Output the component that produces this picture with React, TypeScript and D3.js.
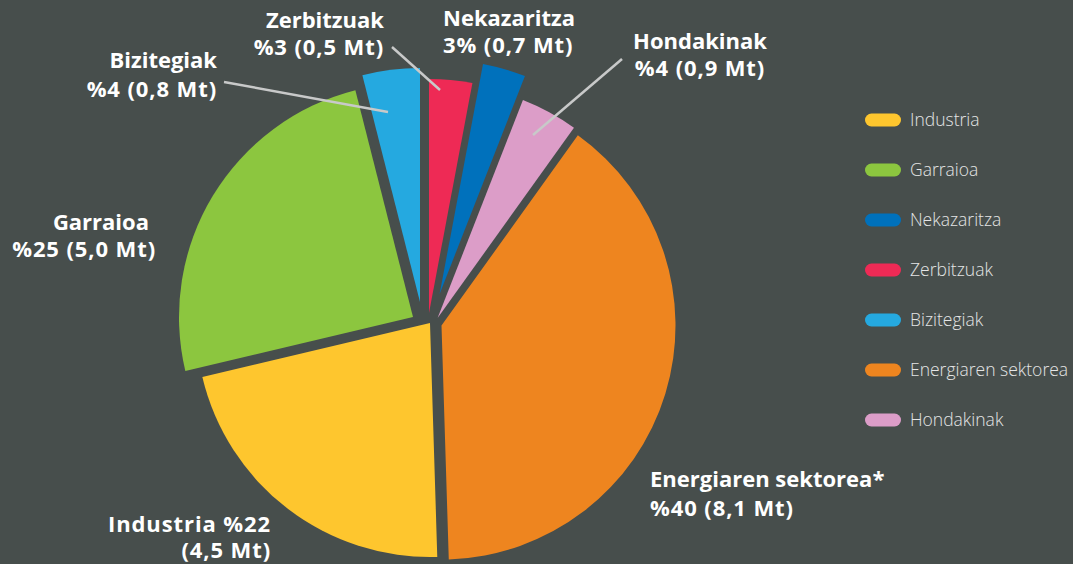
import React, { useEffect, useRef } from 'react';
import { select, pie, arc } from 'd3';

// slices in drawing order, clockwise from 12 o'clock
const sectors = ['Zerbitzuak', 'Nekazaritza', 'Hondakinak', 'Energiaren sektorea', 'Industria', 'Garraioa', 'Bizitegiak'];
const shares = [3, 3, 4, 40, 22, 25, 4];
const emissionsMt = ['0,5', '0,7', '0,9', '8,1', '4,5', '5,0', '0,8'];
const legendOrder = ['Industria', 'Garraioa', 'Nekazaritza', 'Zerbitzuak', 'Bizitegiak', 'Energiaren sektorea', 'Hondakinak'];

const colors: Record<string, string> = {
  Industria: '#fec62e',
  Garraioa: '#8cc63f',
  Nekazaritza: '#0071bc',
  Zerbitzuak: '#ee2a55',
  Bizitegiak: '#25a9e0',
  'Energiaren sektorea': '#ee851f',
  Hondakinak: '#dc9dc8',
};

// how far each slice is pulled away from the centre (px)
const pull: Record<string, [number, number]> = {
  Zerbitzuak: [-1, -9],
  Nekazaritza: [9.6, -28],
  Hondakinak: [7.6, -4],
  'Energiaren sektorea': [11.5, 3.5],
  Industria: [0, 1],
  Garraioa: [-17, -5],
  Bizitegiak: [-10, -20],
};

// label placement
const labelLayout: Record<string, any> = {
  Zerbitzuak: { x: 384, ys: [28, 55], anchor: 'end', top: 'Zerbitzuak', fmt: (p: number, m: string) => `%${p} (${m} Mt)`, leader: [[392, 47], [440, 90]] },
  Nekazaritza: { x: 443, ys: [26, 53], anchor: 'start', top: 'Nekazaritza', fmt: (p: number, m: string) => `${p}% (${m} Mt)` },
  Hondakinak: { x: 700, ys: [49, 76], anchor: 'middle', top: 'Hondakinak', fmt: (p: number, m: string) => `%${p} (${m} Mt)`, leader: [[622, 59], [533, 135]] },
  'Energiaren sektorea': { x: 650, ys: [487, 516], anchor: 'start', top: 'Energiaren sektorea*', fmt: (p: number, m: string) => `%${p} (${m} Mt)` },
  Industria: { x: 271, ys: [532, 558], anchor: 'end', top: 'Industria %22', fmt: (_p: number, m: string) => `(${m} Mt)` },
  Garraioa: { x: 156, ys: [230, 257], anchor: 'end', dx: [-7, 0], top: 'Garraioa', fmt: (p: number, m: string) => `%${p} (${m} Mt)` },
  Bizitegiak: { x: 217, ys: [68, 97], anchor: 'end', top: 'Bizitegiak', fmt: (p: number, m: string) => `%${p} (${m} Mt)`, leader: [[224, 82], [388, 112]] },
};

const W = 1073;
const H = 564;
const BG = '#474e4c';

const App = () => {
  const svgRef = useRef(null);

  useEffect(() => {
    const svg = select(svgRef.current);
    svg.selectAll('*').remove();

    svg.append('rect').attr('width', W).attr('height', H).attr('fill', BG);

    const cx = 430;
    const cy = 322;
    const radius = 234;

    const rows = sectors.map((name, i) => ({ name, share: shares[i], mt: emissionsMt[i] }));
    const slices = pie<any>().sort(null).value((d) => d.share)(rows);
    const wedge = arc<any>().innerRadius(0).outerRadius(radius);

    const g = svg.append('g').attr('transform', `translate(${cx},${cy})`);
    slices.forEach((s) => {
      const [dx, dy] = pull[s.data.name];
      g.append('path')
        .attr('d', wedge(s))
        .attr('transform', `translate(${dx},${dy})`)
        .attr('fill', colors[s.data.name]);
    });

    // leader lines
    rows.forEach((r) => {
      const lay = labelLayout[r.name];
      if (!lay.leader) return;
      svg
        .append('line')
        .attr('x1', lay.leader[0][0])
        .attr('y1', lay.leader[0][1])
        .attr('x2', lay.leader[1][0])
        .attr('y2', lay.leader[1][1])
        .attr('stroke', '#c8c9c9')
        .attr('stroke-width', 2.5);
    });

    // slice labels
    rows.forEach((r) => {
      const lay = labelLayout[r.name];
      const lines = [lay.top, lay.fmt(r.share, r.mt)];
      lines.forEach((t, k) => {
        svg
          .append('text')
          .attr('x', lay.x + (lay.dx ? lay.dx[k] : 0))
          .attr('y', lay.ys[k])
          .attr('text-anchor', lay.anchor)
          .attr('font-family', '"Open Sans", "Noto Sans", sans-serif')
          .attr('font-weight', 700)
          .attr('font-size', 22)
          .attr('letter-spacing', /\d/.test(t) ? 0.9 : 0)
          .attr('fill', '#ffffff')
          .text(t);
      });
    });

    // legend
    const lg = svg.append('g').attr('transform', 'translate(865,120)');
    legendOrder.forEach((name, i) => {
      const y = i * 50;
      lg.append('rect')
        .attr('x', 0)
        .attr('y', y - 6.5)
        .attr('width', 36)
        .attr('height', 13)
        .attr('rx', 6.5)
        .attr('fill', colors[name]);
      lg.append('text')
        .attr('x', 45)
        .attr('y', y + 6)
        .attr('font-family', '"Open Sans", "Noto Sans", sans-serif')
        .attr('font-weight', 300)
        .attr('font-size', 17.5)
        .attr('fill', '#e4e5e5')
        .text(name);
    });
  }, []);

  return (
    <svg
      ref={svgRef}
      width={W}
      height={H}
      style={{ position: 'fixed', left: 0, top: 0, display: 'block' }}
    ></svg>
  );
};

export default App;
